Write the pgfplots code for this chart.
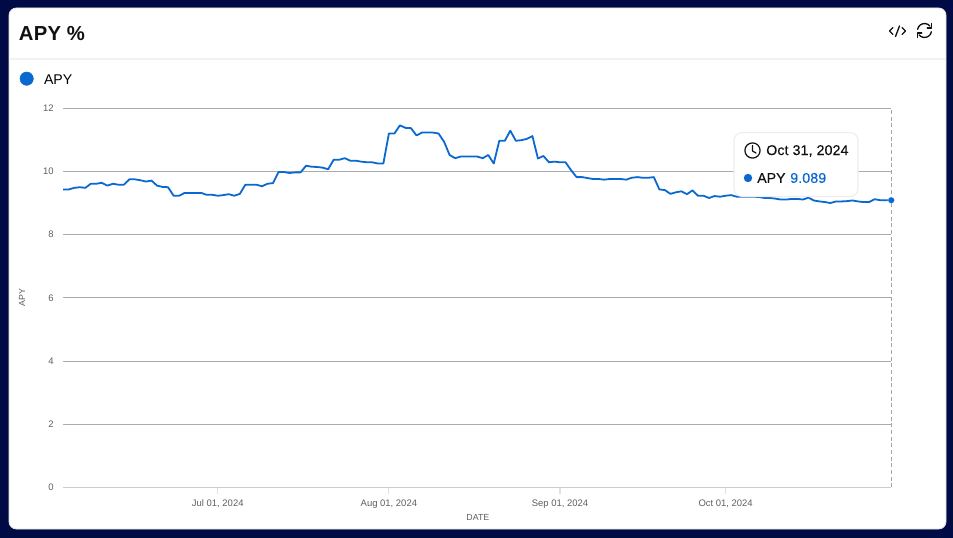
\documentclass[border=0pt]{standalone}
\usepackage{fontspec}
\setmainfont{Liberation Sans}
\usepackage{pgfplots}
\pgfplotsset{compat=1.18}
\usetikzlibrary{arrows.meta}
\definecolor{navy}{HTML}{000A45}
\definecolor{apy}{HTML}{0A69D0}
\definecolor{gridc}{HTML}{ABABAB}
\definecolor{axc}{HTML}{CCCCCC}
\definecolor{tickc}{HTML}{5F5F5F}
\definecolor{ink}{HTML}{111111}
\definecolor{rulec}{HTML}{F0F2F7}
\begin{document}
\begin{tikzpicture}[x=0.75pt,y=-0.75pt]
\path[use as bounding box,fill=navy] (0,0) rectangle (953,538);
\fill[white,draw=black!12,line width=0.6pt,rounded corners=5.5pt] (9,8) rectangle (946,529);
\draw[rulec,line width=1pt] (9.5,59) -- (945.5,59);
\node[anchor=west,inner sep=0pt,text=ink] at (18.5,34) {\fontsize{15.2pt}{18pt}\selectfont\bfseries\addfontfeature{LetterSpace=2}APY\hspace{4.2pt}\%};
\begin{axis}[
  at={(47.4pt,-365.45pt)},anchor=south west,scale only axis,
  width=621pt,height=284.25pt,
  xmin=0,xmax=150,ymin=0,ymax=12,
  axis y line=left,axis x line=bottom,
  x axis line style={draw=axc,-,line width=0.8pt},
  y axis line style={draw=none,-},
  ytick={0,2,4,6,8,10,12},
  xtick={28,59,90,120},
  xticklabels={Jul 01{,} 2024,Aug 01{,} 2024,Sep 01{,} 2024,Oct 01{,} 2024},
  ymajorgrids,
  grid style={gridc,line width=0.65pt},
  tick align=outside,
  xtick style={draw=black!12,line width=0.9pt},
  ytick style={draw=none},
  major tick length=5pt,
  tick label style={text=tickc,font=\fontsize{7.1pt}{8.5pt}\selectfont},
  /pgf/number format/assume math mode=true,
  xticklabel style={anchor=base,yshift=-9.5pt},
  yticklabel style={xshift=1.3pt},
  xlabel={DATE},ylabel={APY},
  label style={text=tickc,font=\fontsize{6.6pt}{8pt}\selectfont},
  xlabel style={at={(axis description cs:0.5,0)},anchor=center,yshift=-22.5pt,xshift=0.5pt},
  ylabel style={at={(axis description cs:0,0.5)},anchor=center,rotate=0,yshift=30.8pt},
  clip=false,
  legend style={at={(rel axis cs:0,1)},anchor=west,xshift=-32.6pt,yshift=21pt,draw=none,fill=none,
    font=\fontsize{10.6pt}{12pt}\selectfont,inner sep=0pt},
  legend cell align=left,
]
\addplot[apy,line width=1.35pt,line join=round,forget plot] table {
0 9.43
1 9.43
2 9.48
3 9.50
4 9.48
5 9.61
6 9.61
7 9.64
8 9.55
9 9.61
10 9.58
11 9.58
12 9.75
13 9.75
14 9.72
15 9.68
16 9.71
17 9.55
18 9.51
19 9.50
20 9.23
21 9.23
22 9.32
23 9.32
24 9.32
25 9.32
26 9.26
27 9.26
28 9.23
29 9.25
30 9.28
31 9.23
32 9.29
33 9.58
34 9.58
35 9.58
36 9.53
37 9.61
38 9.63
39 9.98
40 9.98
41 9.95
42 9.97
43 9.97
44 10.18
45 10.15
46 10.14
47 10.12
48 10.07
49 10.37
50 10.37
51 10.42
52 10.34
53 10.34
54 10.31
55 10.29
56 10.29
57 10.25
58 10.25
59 11.20
60 11.20
61 11.46
62 11.38
63 11.37
64 11.14
65 11.23
66 11.23
67 11.23
68 11.20
69 10.94
70 10.52
71 10.42
72 10.47
73 10.47
74 10.47
75 10.47
76 10.42
77 10.52
78 10.25
79 10.97
80 10.97
81 11.29
82 10.97
83 10.99
84 11.03
85 11.12
86 10.41
87 10.49
88 10.29
89 10.31
90 10.29
91 10.29
92 10.04
93 9.82
94 9.82
95 9.79
96 9.76
97 9.76
98 9.74
99 9.76
100 9.76
101 9.76
102 9.74
103 9.80
104 9.82
105 9.80
106 9.80
107 9.82
108 9.43
109 9.41
110 9.29
111 9.34
112 9.37
113 9.28
114 9.40
115 9.23
116 9.23
117 9.16
118 9.22
119 9.20
120 9.23
121 9.25
122 9.20
123 9.20
124 9.20
125 9.20
126 9.19
127 9.16
128 9.16
129 9.14
130 9.11
131 9.11
132 9.13
133 9.13
134 9.11
135 9.17
136 9.08
137 9.05
138 9.03
139 9.00
140 9.05
141 9.05
142 9.06
143 9.08
144 9.05
145 9.03
146 9.03
147 9.12
148 9.09
149 9.09
150 9.089
};
\addplot[black!35,line width=1.05pt,dash pattern=on 3pt off 2pt,forget plot] coordinates {(150,0) (150,12)};
\addplot[only marks,mark=*,mark size=2.5pt,mark options={fill=apy,draw=white,line width=0.2pt},forget plot] coordinates {(150,9.089)};
\addlegendimage{only marks,mark=*,mark size=5pt,mark options={fill=apy,draw=apy,yshift=1.2pt}}
\addlegendentry{\hspace{6pt}APY}
\end{axis}
% tooltip
\draw[fill=white,draw=black!7,line width=0.8pt,rounded corners=6pt] (734,132.5) rectangle (858,196.5);
\draw[ink,line width=0.9pt] (752.5,150.5) circle (7.6);
\draw[ink,line width=0.9pt,line cap=round,line join=round] (752.5,145.5) -- (752.5,151) -- (756,153);
\node[anchor=west,inner sep=0pt,text=ink] at (766,151) {\fontsize{10.6pt}{13pt}\selectfont\addfontfeature{LetterSpace=1,FakeBold=0.25}Oct 31, 2024};
\fill[apy] (748,178) circle (4.2);
\node[anchor=west,inner sep=0pt,text=ink] at (757,178) {\fontsize{10.6pt}{13pt}\selectfont\addfontfeature{FakeBold=0.25}APY};
\node[anchor=west,inner sep=0pt,text=apy] at (790,178) {\fontsize{10.6pt}{13pt}\selectfont\addfontfeature{LetterSpace=1,FakeBold=0.25}9.089};
% icons
\draw[ink,line width=1pt,line cap=round,line join=round] (893,27.5) -- (889.5,31) -- (893,34.5);
\draw[ink,line width=1pt,line cap=round,line join=round] (902,27.5) -- (905.5,31) -- (902,34.5);
\draw[ink,line width=1pt,line cap=round] (899.5,26) -- (895.5,36.5);
\draw[ink,line width=1pt,line cap=round,line join=round] (917.6,29.3) arc[start angle=190,end angle=320,radius=7];
\draw[ink,line width=1pt,line cap=round,line join=round] (931.4,31.7) arc[start angle=10,end angle=140,radius=7];
\draw[ink,line width=1pt,line cap=round,line join=round] (931.8,23.5) -- (931.8,28) -- (927.3,28);
\draw[ink,line width=1pt,line cap=round,line join=round] (917.2,37.5) -- (917.2,33) -- (921.7,33);
\end{tikzpicture}
\end{document}
